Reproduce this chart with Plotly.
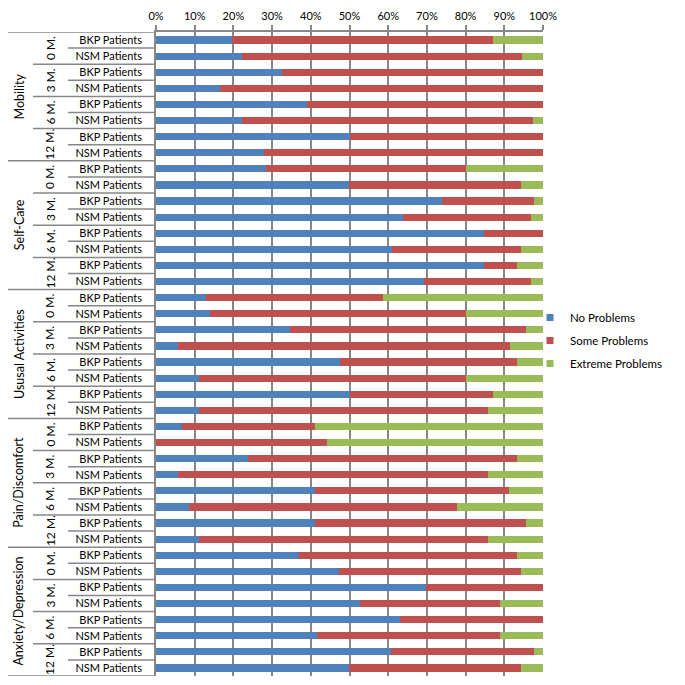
import plotly.graph_objects as go

dimensions = ["Mobility", "Self-Care", "Ususal Activities", "Pain/Discomfort", "Anxiety/Depression"]
times = ["0 M.", "3 M.", "6 M.", "12 M."]
groups = ["BKP Patients", "NSM Patients"]

no_problems = [
    19.6, 22.2, 32.6, 16.6, 39.0, 22.2, 50.0, 27.8,
    28.3, 49.8, 73.9, 63.7, 84.7, 61.1, 84.7, 69.3,
    13.0, 14.0, 34.7, 5.7, 47.6, 11.1, 50.0, 11.1,
    6.6, 0.0, 23.8, 5.7, 41.2, 8.5, 41.2, 11.1,
    36.9, 47.2, 69.7, 52.6, 63.0, 41.6, 60.8, 49.8,
]
some_problems = [
    67.5, 72.4, 67.4, 83.4, 61.0, 75.1, 50.0, 72.2,
    51.9, 44.4, 23.7, 33.3, 15.3, 33.1, 8.6, 27.7,
    45.7, 66.2, 60.9, 85.7, 45.7, 69.1, 37.1, 74.8,
    34.6, 44.3, 69.5, 80.2, 49.9, 69.3, 54.4, 74.8,
    56.4, 47.0, 30.3, 36.2, 37.0, 47.2, 36.8, 44.4,
]
extreme_problems = [
    12.9, 5.4, 0.0, 0.0, 0.0, 2.7, 0.0, 0.0,
    19.8, 5.8, 2.4, 3.0, 0.0, 5.8, 6.7, 3.0,
    41.3, 19.8, 4.4, 8.6, 6.7, 19.8, 12.9, 14.1,
    58.8, 55.7, 6.7, 14.1, 8.9, 22.2, 4.4, 14.1,
    6.7, 5.8, 0.0, 11.2, 0.0, 11.2, 2.4, 5.8,
]

row_labels = [g for d in dimensions for t in times for g in groups]
n = len(row_labels)
ypos = list(range(n))

FONT = "Lato"
W, H = 685, 685
OFF = 8  # page body margin
SX0, SX1, SY0, SY1 = 156, 543, 32, 676
ML = SX0 - OFF
MR = W - (SX1 - OFF)
MT = SY0 - OFF
MB = H - (SY1 - OFF)
PW = SX1 - SX0
PH = SY1 - SY0
GRID = "#878787"

def sx(px):
    return (px - SX0) / PW

def sy(py):
    return 1 - (py - SY0) / PH

fig = go.Figure()
series = [("No Problems", no_problems, "#4F81BD"),
          ("Some Problems", some_problems, "#C0504D"),
          ("Extreme Problems", extreme_problems, "#9BBB59")]
for name, vals, col in series:
    fig.add_trace(go.Bar(
        y=ypos, x=vals, name=name, orientation="h",
        marker=dict(color=col, line=dict(width=0)),
        showlegend=False,
    ))
for name, vals, col in series:
    fig.add_trace(go.Scatter(
        x=[None], y=[None], mode="markers", name=name,
        marker=dict(symbol="square", size=7, color=col),
        legendgroup=name,
    ))

shapes = []
for yb in [-0.5, n - 0.5]:
    shapes.append(dict(type="line", xref="paper", yref="y", x0=sx(0), x1=0,
                       y0=yb, y1=yb, line=dict(color=GRID, width=1.5)))
for i in range(n - 1):
    yb = i + 0.5
    if (i + 1) % 8 == 0:
        x0 = sx(0)
    elif (i + 1) % 2 == 0:
        x0 = sx(33)
    else:
        x0 = sx(68)
    shapes.append(dict(type="line", xref="paper", yref="y", x0=x0, x1=0,
                       y0=yb, y1=yb, line=dict(color=GRID, width=1.5)))

annotations = []
for k, d in enumerate(dimensions):
    annotations.append(dict(text=d, xref="paper", yref="y", x=sx(19), y=k * 8 + 3.5,
                            xanchor="center", yanchor="middle",
                            textangle=-90, showarrow=False, font=dict(family=FONT, size=12.5, color="#000")))
    for j, t in enumerate(times):
        annotations.append(dict(text=t, xref="paper", yref="y", x=sx(50),
                                y=k * 8 + j * 2 + 0.5, xanchor="center", yanchor="middle",
                                textangle=-90, showarrow=False,
                                font=dict(family=FONT, size=12, color="#000")))

fig.update_layout(
    width=W, height=H,
    margin=dict(l=ML, r=MR, t=MT, b=MB, autoexpand=False),
    barmode="stack", bargap=0.55,
    plot_bgcolor="white", paper_bgcolor="white",
    font=dict(family=FONT, size=11, color="#000"),
    shapes=shapes, annotations=annotations,
    legend=dict(x=sx(530), y=sy(303), xanchor="left", yanchor="top",
                traceorder="grouped", tracegroupgap=4, itemwidth=30,
                font=dict(family=FONT, size=11.5), bgcolor="rgba(0,0,0,0)"),
    xaxis=dict(side="top", range=[0, 100], tickvals=list(range(0, 101, 10)),
               ticktext=[f"{v}%" for v in range(0, 101, 10)],
               showgrid=True, gridcolor=GRID, gridwidth=1.5,
               showline=True, linecolor=GRID, linewidth=1.5,
               ticks="outside", ticklen=5, tickcolor=GRID, tickwidth=1.5,
               ticklabelstandoff=1,
               zeroline=False, automargin=False, tickfont=dict(family=FONT, size=11)),
    yaxis=dict(range=[n - 0.5, -0.5], tickvals=ypos, ticktext=row_labels,
               showgrid=False, zeroline=False, showline=True, linecolor=GRID, linewidth=1.5,
               ticks="", ticklabelstandoff=10, automargin=False,
               tickfont=dict(family=FONT, size=11)),
)

fig.write_html("out.html")
